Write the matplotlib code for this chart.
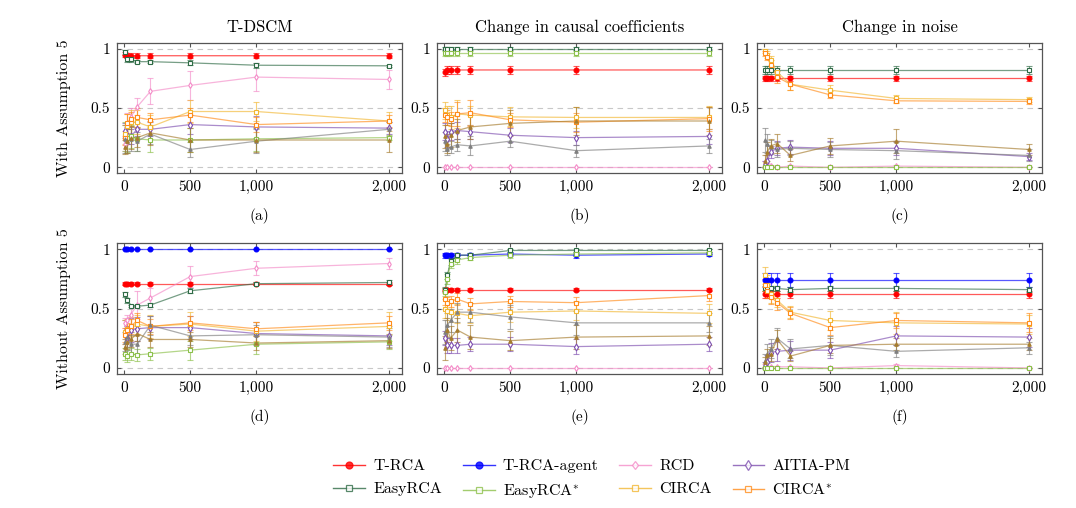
import matplotlib
matplotlib.use('Agg')
import matplotlib.pyplot as plt
from matplotlib.lines import Line2D

plt.rcParams['font.family'] = 'serif'
plt.rcParams['font.serif'] = ['cmr10']
plt.rcParams['mathtext.fontset'] = 'cm'
plt.rcParams['axes.formatter.use_mathtext'] = True

# sample sizes on the x axis
x_vals = [10, 25, 50, 100, 200, 500, 1000, 2000]
x_ticks = [0, 500, 1000, 2000]
x_ticklabels = ['0', '500', '1,000', '2,000']
y_ticks = [0, 0.5, 1]
y_ticklabels = ['0', '0.5', '1']

col_titles = ['T-DSCM', 'Change in causal coefficients', 'Change in noise']
row_labels = ['With Assumption 5', 'Without Assumption 5']
captions = ['(a)', '(b)', '(c)', '(d)', '(e)', '(f)']

methods = ['T-RCA', 'T-RCA-agent', 'RCD', 'AITIA-PM', 'EasyRCA', 'EasyRCA*',
           'CIRCA', 'CIRCA*', 'other1', 'other2']
labels = {'T-RCA': 'T-RCA', 'T-RCA-agent': 'T-RCA-agent', 'RCD': 'RCD',
          'AITIA-PM': 'AITIA-PM', 'EasyRCA': 'EasyRCA', 'EasyRCA*': 'EasyRCA$^{*}$',
          'CIRCA': 'CIRCA', 'CIRCA*': 'CIRCA$^{*}$'}

# (a) T-DSCM, with assumption 5
mean_a = {
    'T-RCA':    [0.95, 0.94, 0.94, 0.94, 0.94, 0.94, 0.94, 0.94],
    'RCD':      [0.20, 0.36, 0.42, 0.51, 0.64, 0.69, 0.76, 0.74],
    'AITIA-PM': [0.31, 0.27, 0.26, 0.32, 0.32, 0.36, 0.34, 0.33],
    'EasyRCA':  [0.97, 0.91, 0.91, 0.89, 0.89, 0.88, 0.86, 0.855],
    'EasyRCA*': [0.26, 0.25, 0.26, 0.24, 0.23, 0.23, 0.24, 0.25],
    'CIRCA':    [0.28, 0.35, 0.38, 0.38, 0.34, 0.47, 0.47, 0.39],
    'CIRCA*':   [0.25, 0.37, 0.41, 0.42, 0.40, 0.44, 0.36, 0.39],
    'other1':   [0.24, 0.22, 0.24, 0.22, 0.28, 0.15, 0.22, 0.32],
    'other2':   [0.17, 0.22, 0.25, 0.25, 0.29, 0.23, 0.23, 0.23],
}
err_a = {
    'T-RCA':    [0.02, 0.02, 0.02, 0.02, 0.02, 0.02, 0.02, 0.02],
    'RCD':      [0.06, 0.10, 0.08, 0.07, 0.11, 0.12, 0.12, 0.08],
    'AITIA-PM': [0.06, 0.07, 0.06, 0.06, 0.06, 0.08, 0.09, 0.05],
    'EasyRCA':  [0.02, 0.02, 0.02, 0.01, 0.01, 0.02, 0.02, 0.01],
    'EasyRCA*': [0.12, 0.12, 0.10, 0.10, 0.10, 0.10, 0.10, 0.02],
    'CIRCA':    [0.08, 0.10, 0.10, 0.10, 0.10, 0.10, 0.08, 0.08],
    'CIRCA*':   [0.06, 0.08, 0.06, 0.08, 0.06, 0.06, 0.06, 0.05],
    'other1':   [0.12, 0.10, 0.10, 0.08, 0.08, 0.06, 0.10, 0.06],
    'other2':   [0.06, 0.10, 0.10, 0.08, 0.10, 0.10, 0.10, 0.10],
}

# (b) change in causal coefficients, with assumption 5
mean_b = {
    'T-RCA':    [0.80, 0.82, 0.82, 0.82, 0.82, 0.82, 0.82, 0.82],
    'RCD':      [0.0, 0.0, 0.0, 0.0, 0.0, 0.0, 0.0, 0.0],
    'AITIA-PM': [0.30, 0.24, 0.30, 0.31, 0.30, 0.27, 0.25, 0.26],
    'EasyRCA':  [1.0, 1.0, 1.0, 1.0, 1.0, 1.0, 1.0, 1.0],
    'EasyRCA*': [0.96, 0.96, 0.96, 0.96, 0.96, 0.96, 0.96, 0.96],
    'CIRCA':    [0.48, 0.44, 0.42, 0.45, 0.44, 0.425, 0.42, 0.42],
    'CIRCA*':   [0.44, 0.42, 0.41, 0.45, 0.46, 0.40, 0.38, 0.41],
    'other1':   [0.22, 0.15, 0.17, 0.19, 0.18, 0.22, 0.14, 0.18],
    'other2':   [0.26, 0.20, 0.27, 0.31, 0.34, 0.37, 0.39, 0.39],
}
err_b = {
    'T-RCA':    [0.03, 0.03, 0.03, 0.03, 0.03, 0.03, 0.03, 0.03],
    'RCD':      [0.0, 0.0, 0.0, 0.0, 0.0, 0.0, 0.0, 0.0],
    'AITIA-PM': [0.07, 0.07, 0.07, 0.07, 0.06, 0.06, 0.06, 0.06],
    'EasyRCA':  [0.01, 0.01, 0.01, 0.01, 0.01, 0.01, 0.01, 0.01],
    'EasyRCA*': [0.02, 0.02, 0.02, 0.02, 0.02, 0.02, 0.02, 0.02],
    'CIRCA':    [0.07, 0.08, 0.10, 0.12, 0.08, 0.08, 0.09, 0.10],
    'CIRCA*':   [0.06, 0.06, 0.06, 0.10, 0.11, 0.06, 0.08, 0.10],
    'other1':   [0.08, 0.05, 0.05, 0.05, 0.08, 0.05, 0.05, 0.06],
    'other2':   [0.10, 0.08, 0.10, 0.10, 0.10, 0.11, 0.12, 0.12],
}

# (c) change in noise, with assumption 5
mean_c = {
    'T-RCA':    [0.75, 0.75, 0.75, 0.75, 0.75, 0.75, 0.75, 0.75],
    'RCD':      [0.03, 0.02, 0.01, 0.0, 0.01, 0.0, 0.01, 0.0],
    'AITIA-PM': [0.02, 0.05, 0.13, 0.16, 0.17, 0.16, 0.16, 0.09],
    'EasyRCA':  [0.82, 0.82, 0.82, 0.82, 0.82, 0.82, 0.82, 0.82],
    'EasyRCA*': [0.0, 0.0, 0.0, 0.0, 0.0, 0.0, 0.0, 0.0],
    'CIRCA':    [0.98, 0.95, 0.90, 0.80, 0.70, 0.65, 0.58, 0.57],
    'CIRCA*':   [0.96, 0.93, 0.86, 0.76, 0.70, 0.61, 0.56, 0.555],
    'other1':   [0.23, 0.20, 0.17, 0.15, 0.16, 0.15, 0.14, 0.10],
    'other2':   [0.05, 0.13, 0.18, 0.20, 0.10, 0.18, 0.22, 0.15],
}
err_c = {
    'T-RCA':    [0.02, 0.02, 0.02, 0.02, 0.02, 0.02, 0.02, 0.02],
    'RCD':      [0.02, 0.02, 0.01, 0.01, 0.01, 0.01, 0.01, 0.01],
    'AITIA-PM': [0.03, 0.05, 0.05, 0.06, 0.06, 0.06, 0.06, 0.03],
    'EasyRCA':  [0.03, 0.03, 0.03, 0.03, 0.03, 0.03, 0.03, 0.03],
    'EasyRCA*': [0.0, 0.0, 0.0, 0.0, 0.0, 0.0, 0.0, 0.0],
    'CIRCA':    [0.02, 0.03, 0.04, 0.04, 0.05, 0.04, 0.03, 0.02],
    'CIRCA*':   [0.02, 0.03, 0.04, 0.05, 0.05, 0.03, 0.02, 0.02],
    'other1':   [0.10, 0.08, 0.06, 0.06, 0.06, 0.06, 0.07, 0.05],
    'other2':   [0.05, 0.08, 0.06, 0.08, 0.05, 0.07, 0.10, 0.05],
}

# (d) T-DSCM, without assumption 5
mean_d = {
    'T-RCA':       [0.71, 0.71, 0.71, 0.71, 0.71, 0.71, 0.71, 0.71],
    'T-RCA-agent': [1.0, 1.0, 1.0, 1.0, 1.0, 1.0, 1.0, 1.0],
    'RCD':         [0.38, 0.40, 0.45, 0.53, 0.59, 0.77, 0.84, 0.88],
    'AITIA-PM':    [0.30, 0.25, 0.32, 0.33, 0.34, 0.34, 0.29, 0.27],
    'EasyRCA':     [0.62, 0.57, 0.52, 0.52, 0.53, 0.65, 0.71, 0.72],
    'EasyRCA*':    [0.12, 0.10, 0.12, 0.11, 0.12, 0.15, 0.20, 0.22],
    'CIRCA':       [0.30, 0.33, 0.35, 0.37, 0.35, 0.37, 0.31, 0.35],
    'CIRCA*':      [0.28, 0.32, 0.35, 0.40, 0.35, 0.38, 0.33, 0.38],
    'other1':      [0.22, 0.26, 0.20, 0.20, 0.36, 0.27, 0.28, 0.26],
    'other2':      [0.18, 0.22, 0.24, 0.29, 0.24, 0.24, 0.21, 0.23],
}
err_d = {
    'T-RCA':       [0.01, 0.01, 0.01, 0.01, 0.01, 0.01, 0.01, 0.01],
    'T-RCA-agent': [0.0, 0.0, 0.0, 0.0, 0.0, 0.0, 0.0, 0.0],
    'RCD':         [0.04, 0.05, 0.08, 0.12, 0.08, 0.09, 0.06, 0.05],
    'AITIA-PM':    [0.10, 0.10, 0.10, 0.10, 0.10, 0.10, 0.10, 0.08],
    'EasyRCA':     [0.02, 0.02, 0.01, 0.01, 0.02, 0.02, 0.01, 0.02],
    'EasyRCA*':    [0.05, 0.05, 0.05, 0.05, 0.05, 0.08, 0.08, 0.06],
    'CIRCA':       [0.10, 0.08, 0.08, 0.08, 0.10, 0.10, 0.08, 0.12],
    'CIRCA*':      [0.06, 0.06, 0.06, 0.06, 0.06, 0.06, 0.06, 0.06],
    'other1':      [0.08, 0.08, 0.08, 0.08, 0.08, 0.08, 0.08, 0.08],
    'other2':      [0.06, 0.06, 0.06, 0.06, 0.06, 0.06, 0.06, 0.06],
}

# (e) change in causal coefficients, without assumption 5
mean_e = {
    'T-RCA':       [0.66, 0.66, 0.66, 0.66, 0.66, 0.66, 0.66, 0.66],
    'T-RCA-agent': [0.95, 0.95, 0.95, 0.95, 0.95, 0.96, 0.95, 0.96],
    'RCD':         [0.0, 0.0, 0.0, 0.0, 0.0, 0.0, 0.0, 0.0],
    'AITIA-PM':    [0.25, 0.19, 0.19, 0.19, 0.20, 0.20, 0.18, 0.20],
    'EasyRCA':     [0.66, 0.78, 0.90, 0.95, 0.95, 0.99, 0.99, 0.99],
    'EasyRCA*':    [0.64, 0.75, 0.88, 0.91, 0.93, 0.95, 0.96, 0.97],
    'CIRCA':       [0.50, 0.48, 0.47, 0.46, 0.44, 0.47, 0.48, 0.46],
    'CIRCA*':      [0.58, 0.55, 0.56, 0.58, 0.54, 0.56, 0.55, 0.61],
    'other1':      [0.30, 0.36, 0.40, 0.47, 0.47, 0.43, 0.38, 0.38],
    'other2':      [0.17, 0.32, 0.25, 0.32, 0.26, 0.23, 0.26, 0.27],
}
err_e = {
    'T-RCA':       [0.01, 0.01, 0.01, 0.01, 0.01, 0.01, 0.01, 0.01],
    'T-RCA-agent': [0.02, 0.02, 0.02, 0.02, 0.02, 0.02, 0.02, 0.02],
    'RCD':         [0.0, 0.0, 0.0, 0.0, 0.0, 0.0, 0.0, 0.0],
    'AITIA-PM':    [0.06, 0.06, 0.06, 0.06, 0.06, 0.06, 0.06, 0.06],
    'EasyRCA':     [0.02, 0.03, 0.03, 0.02, 0.02, 0.01, 0.01, 0.01],
    'EasyRCA*':    [0.03, 0.04, 0.04, 0.03, 0.02, 0.02, 0.02, 0.01],
    'CIRCA':       [0.08, 0.08, 0.08, 0.08, 0.06, 0.08, 0.08, 0.08],
    'CIRCA*':      [0.05, 0.05, 0.05, 0.05, 0.05, 0.05, 0.05, 0.05],
    'other1':      [0.10, 0.10, 0.10, 0.08, 0.08, 0.10, 0.10, 0.08],
    'other2':      [0.10, 0.10, 0.10, 0.10, 0.10, 0.08, 0.10, 0.08],
}

# (f) change in noise, without assumption 5
mean_f = {
    'T-RCA':       [0.62, 0.62, 0.62, 0.62, 0.62, 0.62, 0.62, 0.62],
    'T-RCA-agent': [0.74, 0.74, 0.74, 0.74, 0.74, 0.74, 0.74, 0.74],
    'RCD':         [0.02, 0.01, 0.01, 0.01, 0.01, 0.0, 0.02, 0.0],
    'AITIA-PM':    [0.02, 0.05, 0.13, 0.14, 0.15, 0.15, 0.27, 0.26],
    'EasyRCA':     [0.67, 0.67, 0.67, 0.67, 0.66, 0.67, 0.67, 0.66],
    'EasyRCA*':    [0.0, 0.0, 0.0, 0.0, 0.0, 0.0, 0.0, 0.0],
    'CIRCA':       [0.78, 0.70, 0.62, 0.57, 0.47, 0.40, 0.38, 0.37],
    'CIRCA*':      [0.70, 0.65, 0.60, 0.55, 0.46, 0.34, 0.40, 0.38],
    'other1':      [0.06, 0.12, 0.16, 0.25, 0.16, 0.19, 0.14, 0.17],
    'other2':      [0.05, 0.11, 0.12, 0.24, 0.10, 0.19, 0.20, 0.20],
}
err_f = {
    'T-RCA':       [0.03, 0.03, 0.03, 0.03, 0.03, 0.03, 0.03, 0.03],
    'T-RCA-agent': [0.06, 0.06, 0.06, 0.06, 0.06, 0.06, 0.06, 0.06],
    'RCD':         [0.01, 0.01, 0.01, 0.01, 0.01, 0.01, 0.01, 0.01],
    'AITIA-PM':    [0.03, 0.06, 0.08, 0.08, 0.08, 0.07, 0.08, 0.08],
    'EasyRCA':     [0.02, 0.02, 0.02, 0.02, 0.02, 0.02, 0.02, 0.02],
    'EasyRCA*':    [0.0, 0.0, 0.0, 0.0, 0.0, 0.0, 0.0, 0.0],
    'CIRCA':       [0.07, 0.08, 0.07, 0.06, 0.05, 0.08, 0.09, 0.08],
    'CIRCA*':      [0.05, 0.06, 0.06, 0.06, 0.05, 0.06, 0.06, 0.08],
    'other1':      [0.06, 0.08, 0.08, 0.09, 0.08, 0.08, 0.05, 0.05],
    'other2':      [0.04, 0.05, 0.06, 0.08, 0.04, 0.06, 0.05, 0.05],
}

panels = [(mean_a, err_a), (mean_b, err_b), (mean_c, err_c),
          (mean_d, err_d), (mean_e, err_e), (mean_f, err_f)]

styles = {
    'T-RCA':       dict(color='#ff0000', marker='o', ms=3.5, mfc='#ff0000'),
    'T-RCA-agent': dict(color='#0000ff', marker='o', ms=3.5, mfc='#0000ff'),
    'RCD':         dict(color='#f48cc8', marker='d', ms=3, mfc='white'),
    'AITIA-PM':    dict(color='#7e4fb0', marker='d', ms=3.5, mfc='white'),
    'EasyRCA':     dict(color='#2e6b45', marker='s', ms=3.5, mfc='white'),
    'EasyRCA*':    dict(color='#8cc04a', marker='s', ms=3.5, mfc='white'),
    'CIRCA':       dict(color='#f2b733', marker='s', ms=3.5, mfc='white'),
    'CIRCA*':      dict(color='#ff8c1a', marker='s', ms=3.5, mfc='white'),
    'other1':      dict(color='#7f7f7f', marker='^', ms=2.5, mfc='#7f7f7f'),
    'other2':      dict(color='#a67c2e', marker='^', ms=2.5, mfc='#a67c2e'),
}

fig = plt.figure(figsize=(10.76, 5.08), dpi=100)
lefts = [0.1087, 0.4061, 0.7035]
bottoms = [0.659, 0.264]
w, h = 0.265, 0.257

for i, (means, errs) in enumerate(panels):
    r, c = divmod(i, 3)
    ax = fig.add_axes([lefts[c], bottoms[r], w, h])
    for yv in y_ticks:
        ax.axhline(yv, color='#c8c8c8', lw=0.8, ls=(0, (5, 4)), zorder=0)
    for m in methods:
        if m not in means:
            continue
        st = styles[m]
        ax.errorbar(x_vals, means[m], yerr=errs[m], color=st['color'], lw=0.9,
                    alpha=0.65, elinewidth=0.8, capsize=2.5, capthick=0.8,
                    fmt='none', zorder=2)
        ax.plot(x_vals, means[m], color=st['color'], lw=0.9, alpha=0.65, zorder=3)
        ax.plot(x_vals, means[m], ls='none', marker=st['marker'], ms=st['ms'],
                mfc=st['mfc'], mec=st['color'], mew=0.8, zorder=4)
    ax.set_xlim(-53, 2100)
    ax.set_ylim(-0.05, 1.05)
    ax.set_xticks(x_ticks)
    ax.set_xticklabels(x_ticklabels)
    ax.set_yticks(y_ticks)
    ax.set_yticklabels(y_ticklabels)
    ax.tick_params(direction='in', top=True, right=True, length=3,
                   labelsize=11, color='#555555', pad=5)
    for s in ax.spines.values():
        s.set_color('#555555')
        s.set_linewidth(0.9)
    ax.text(0.5, -0.33, captions[i], transform=ax.transAxes, ha='center',
            va='center', fontsize=11)
    if r == 0:
        ax.set_title(col_titles[c], fontsize=12, pad=8)
    if c == 0:
        ax.set_ylabel(row_labels[r], fontsize=11.5, labelpad=14)

# legend filled column-wise, so interleave the two rows
legend_order = ['T-RCA', 'EasyRCA', 'T-RCA-agent', 'EasyRCA*',
                'RCD', 'CIRCA', 'AITIA-PM', 'CIRCA*']
handles = []
for m in legend_order:
    st = styles[m]
    handles.append(Line2D([], [], color=st['color'], lw=1, alpha=0.8,
                          marker=st['marker'], ms=st['ms'] + 1.5, mfc=st['mfc'],
                          mec=st['color'], mew=0.9, label=labels[m]))
fig.legend(handles=handles, ncol=4, loc='center', bbox_to_anchor=(0.55, 0.055),
           frameon=False, fontsize=11.5, handlelength=2.0, columnspacing=1.3,
           handletextpad=0.5, labelspacing=0.55)

fig.savefig('out.png', dpi=100)
